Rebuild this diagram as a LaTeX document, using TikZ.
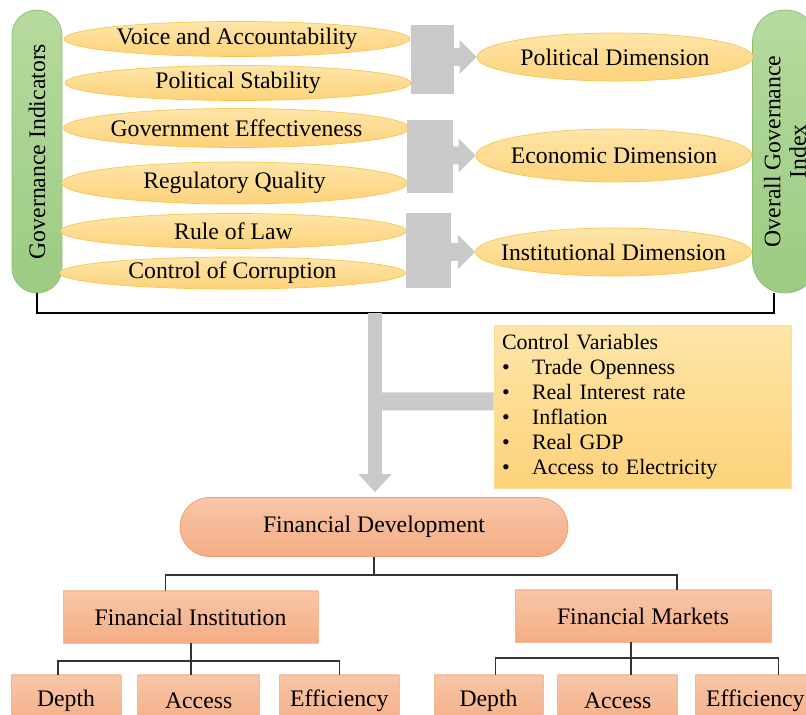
\documentclass[tikz,border=0pt]{standalone}
\usepackage{fontspec}
\setmainfont{Liberation Serif}
\usetikzlibrary{shapes.geometric, arrows.meta}
\usetikzlibrary{positioning}
\usepackage{xcolor}
\definecolor{ylwtop}{HTML}{FEE5A8}
\definecolor{ylwbot}{HTML}{FDD27A}
\definecolor{ylwline}{HTML}{F7C754}
\definecolor{grntop}{HTML}{B6DA9E}
\definecolor{grnbot}{HTML}{9CCB82}
\definecolor{grnline}{HTML}{8CBF6E}
\definecolor{salmtop}{HTML}{F8C6A8}
\definecolor{salmbot}{HTML}{F4AD84}
\definecolor{salmline}{HTML}{F29B68}
\definecolor{blockgray}{HTML}{C9C9C9}
\tikzstyle{indicator} = [ellipse, inner xsep=-30pt, inner ysep=-3pt, minimum width=6.92cm, minimum height=0.7cm, draw=ylwline, top color=ylwtop, bottom color=ylwbot, font=\fontsize{13.5}{15}\selectfont]
\tikzstyle{dimension} = [ellipse, inner xsep=-40pt, inner ysep=-3pt, minimum width=5.52cm, minimum height=0.96cm, draw=ylwline, top color=ylwtop, bottom color=ylwbot, font=\fontsize{13.5}{15}\selectfont]
\tikzstyle{pill} = [rectangle, rotate=90, minimum width=5.66cm, draw=grnline, top color=grntop, bottom color=grnbot, align=center, font=\fontsize{13.5}{14.5}\selectfont]
\tikzstyle{finbox} = [rectangle, minimum height=1.04cm, draw=salmline!70, top color=salmtop, bottom color=salmbot, font=\fontsize{13.5}{15}\selectfont]
\tikzstyle{grayblock} = [fill=blockgray]
\tikzstyle{fatarrow} = [line width=0.3cm, draw=blockgray, -{Triangle[width=0.64cm, length=0.36cm]}]
\tikzstyle{fatbar} = [line width=0.36cm, draw=blockgray]
\tikzstyle{tree} = [draw=black!80, line width=0.8pt]

\begin{document}
\begin{tikzpicture}[x=0.02cm, y=-0.02cm]
      \useasboundingbox (0,0) rectangle (806,715);
      % governance side
      \node (gi) [pill, minimum height=1cm, rounded corners=0.5cm] at (37,151.5) {Governance Indicators};
      \node (ogi) [pill, minimum height=1.3cm, rounded corners=0.64cm] at (785,151.5) {Overall Governance\\Index};

      \node (voice) [indicator] at (237,39) {Voice and Accountability};
      \node (stab) [indicator] at (238,83) {Political Stability};
      \node (eff) [indicator, minimum height=0.78cm] at (236.5,128) {Government Effectiveness};
      \node (reg) [indicator, minimum height=0.84cm] at (234.5,183) {Regulatory Quality};
      \node (law) [indicator] at (233.5,231) {Rule of Law};
      \node (corr) [indicator, minimum height=0.64cm] at (232.5,273) {Control of Corruption};

      \node (pol) [dimension] at (615,57) {Political Dimension};
      \node (econ) [dimension, minimum height=1.06cm] at (614,155.5) {Economic Dimension};
      \node (inst) [dimension] at (613.5,252) {Institutional Dimension};

      % block arrows
      \fill[grayblock] (411,25) rectangle (454,94);
      \fill[grayblock] (pol.west) -- ++(-17,-17) -- ++(0,8) -- ++(-10,0) -- ++(0,18) -- ++(10,0) -- ++(0,8) -- cycle;
      \fill[grayblock] (407,120) rectangle (453,193);
      \fill[grayblock] (econ.west) -- ++(-17,-17) -- ++(0,8) -- ++(-10,0) -- ++(0,18) -- ++(10,0) -- ++(0,8) -- cycle;
      \fill[grayblock] (406,213) rectangle (451,288);
      \fill[grayblock] (inst.west) -- ++(-17,-17) -- ++(0,8) -- ++(-10,0) -- ++(0,18) -- ++(10,0) -- ++(0,8) -- cycle;

      % bracket and control variables
      \coordinate (brk) at (375,313);
      \draw [line width=0.9pt] (gi.west) |- (brk) -| ([xshift=-0.22cm]ogi.west);
      \node (ctrl) [rectangle, draw=ylwline!60, top color=ylwtop, bottom color=ylwbot, minimum width=5.94cm, minimum height=3.26cm, text width=5.62cm, align=left, font=\fontsize{12.5}{14.2}\selectfont] at (642.5,406.5) {Control Variables\\
        \makebox[0.6cm][l]{\textbullet}Trade Openness\\
        \makebox[0.6cm][l]{\textbullet}Real Interest rate\\
        \makebox[0.6cm][l]{\textbullet}Inflation\\
        \makebox[0.6cm][l]{\textbullet}Real GDP\\
        \makebox[0.6cm][l]{\textbullet}Access to Electricity};

      % financial development
      \node (fd) [rectangle, rounded corners=0.59cm, minimum width=7.76cm, minimum height=1.18cm, draw=salmline, top color=salmtop, bottom color=salmbot, font=\fontsize{13.5}{15}\selectfont] at (374,527) {Financial Development};
      \draw [fatbar] (brk |- ctrl.west) ++(0,-5) -- ([yshift=0.1cm]ctrl.west);
      \draw [fatarrow, shorten >=0.1cm] (brk) -- (brk |- fd.north);

      \node (fi) [finbox, minimum width=5.1cm] at (190.5,617) {Financial Institution};
      \node (fm) [finbox, minimum width=5.12cm] at (643,616) {Financial Markets};
      \coordinate (j1) at (374,575);
      \draw [tree] (fd.south) -- (j1);
      \draw [tree] ([xshift=-0.5cm]fi.north) |- (j1) -| ([xshift=0.68cm]fm.north);

      \node (dep1) [finbox, minimum width=2.2cm] at (66,701) {Depth};
      \node (acc1) [finbox, minimum width=2.44cm, right=0.32cm of dep1] {Access};
      \node (eff1) [finbox, minimum width=2.4cm, right=0.38cm of acc1] {Efficiency};
      \node (dep2) [finbox, minimum width=2.18cm] at (488.5,701) {Depth};
      \node (acc2) [finbox, minimum width=2.4cm, right=0.28cm of dep2] {Access};
      \node (eff2) [finbox, minimum width=2.4cm, right=0.34cm of acc2] {Efficiency};

      \coordinate (j2) at (191,661);
      \coordinate (j3) at (631,658);
      \draw [tree] (j2 |- fi.south) -- (j2 |- acc1.north);
      \draw [tree] ([xshift=-0.16cm]dep1.north) |- (j2) -| (eff1.north);
      \draw [tree] (j3 |- fm.south) -- (j3 |- acc2.north);
      \draw [tree] ([xshift=0.14cm]dep2.north) |- (j3) -| ([xshift=0.46cm]eff2.north);
    \end{tikzpicture}
\end{document}
